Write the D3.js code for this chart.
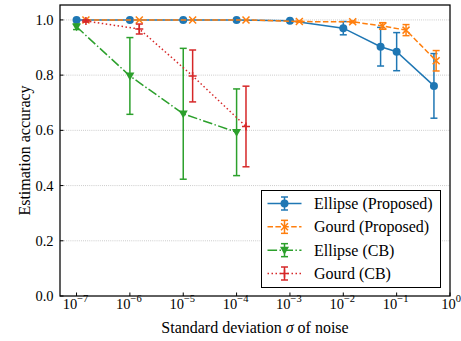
<!DOCTYPE html>
<html>
<head>
<meta charset="utf-8">
<script src="https://cdn.jsdelivr.net/npm/d3@7"></script>
<style>
  html, body { margin: 0; padding: 0; background: #fff; }
</style>
</head>
<body>
<svg id="chart" width="461" height="341"></svg>
<script>
////////// Data //////////
const ellipseProposedX = [1e-7, 1e-6, 1e-5, 1e-4, 1e-3, 1e-2, 0.05, 0.1, 0.5];
const ellipseProposedY = [1.0, 1.0, 1.0, 1.0, 0.997, 0.970, 0.903, 0.885, 0.761];
const ellipseProposedErr = [0, 0, 0, 0, 0.002, 0.024, 0.070, 0.069, 0.117];

const gourdProposedX = [1.5e-7, 1.5e-6, 1.5e-5, 1.5e-4, 1.5e-3, 1.5e-2, 0.055, 0.15, 0.55];
const gourdProposedY = [1.0, 1.0, 1.0, 1.0, 0.994, 0.993, 0.978, 0.963, 0.852];
const gourdProposedErr = [0, 0, 0, 0, 0.002, 0.003, 0.012, 0.020, 0.037];

const ellipseCbX = [1e-7, 1e-6, 1e-5, 1e-4];
const ellipseCbY = [0.975, 0.797, 0.660, 0.593];
const ellipseCbErr = [0.010, 0.139, 0.237, 0.157];

const gourdCbX = [1.5e-7, 1.5e-6, 1.5e-5, 1.5e-4];
const gourdCbY = [0.996, 0.967, 0.797, 0.614];
const gourdCbErr = [0.004, 0.018, 0.094, 0.146];

const xTickExps = [-7, -6, -5, -4, -3, -2, -1, 0];
const yTicks = [0.0, 0.2, 0.4, 0.6, 0.8, 1.0];
const seriesNames = ['Ellipse (Proposed)', 'Gourd (Proposed)', 'Ellipse (CB)', 'Gourd (CB)'];

////////// Layout //////////
const plotLeft = 60, plotRight = 450, plotTop = 5, plotBottom = 296;
const tickLen = 3.5;
const capHalf = 3.5;
const lineW = 1.5;
const serif = '"Liberation Serif", serif';

const svg = d3.select('#chart').attr('font-family', serif);

const x = d3.scaleLog().domain([Math.pow(10, -7.31), 1]).range([plotLeft, plotRight]);
const y = d3.scaleLinear().domain([0, 1.054]).range([plotBottom, plotTop]);

const series = [
  { name: seriesNames[0], xs: ellipseProposedX, ys: ellipseProposedY, err: ellipseProposedErr, color: '#1f77b4', dash: null, marker: 'circle' },
  { name: seriesNames[1], xs: gourdProposedX, ys: gourdProposedY, err: gourdProposedErr, color: '#ff7f0e', dash: '5.5,2.4', marker: 'x' },
  { name: seriesNames[2], xs: ellipseCbX, ys: ellipseCbY, err: ellipseCbErr, color: '#2ca02c', dash: '9.6,2.4,1.5,2.4', marker: 'tri' },
  { name: seriesNames[3], xs: gourdCbX, ys: gourdCbY, err: gourdCbErr, color: '#d62728', dash: '1.5,2.5', marker: 'plus' }
];

// grid
svg.append('g').attr('class', 'grid')
  .selectAll('line')
  .data(yTicks.filter(d => d > 0))
  .enter().append('line')
    .attr('x1', plotLeft).attr('x2', plotRight)
    .attr('y1', d => y(d)).attr('y2', d => y(d))
    .attr('stroke', '#b0b0b0')
    .attr('stroke-width', 0.8)
    .attr('stroke-dasharray', '0.8,1.3');

function drawMarker(g, type, color, cx, cy) {
  if (type === 'circle') {
    g.append('circle').attr('cx', cx).attr('cy', cy).attr('r', 4).attr('fill', color);
  } else if (type === 'x') {
    const s = 3.5;
    g.append('path')
      .attr('d', `M${cx - s},${cy - s}L${cx + s},${cy + s}M${cx - s},${cy + s}L${cx + s},${cy - s}`)
      .attr('stroke', color).attr('stroke-width', 1.5).attr('fill', 'none');
  } else if (type === 'tri') {
    const s = 4.5;
    g.append('path')
      .attr('d', `M${cx - s},${cy - s * 0.75}L${cx + s},${cy - s * 0.75}L${cx},${cy + s}Z`)
      .attr('fill', color);
  } else if (type === 'plus') {
    const s = 4;
    g.append('path')
      .attr('d', `M${cx - s},${cy}L${cx + s},${cy}M${cx},${cy - s}L${cx},${cy + s}`)
      .attr('stroke', color).attr('stroke-width', 1.5).attr('fill', 'none');
  }
}

function drawErrorBar(g, color, cx, yTop, yBot) {
  g.append('line').attr('x1', cx).attr('x2', cx).attr('y1', yTop).attr('y2', yBot)
    .attr('stroke', color).attr('stroke-width', lineW);
  [yTop, yBot].forEach(yy => {
    g.append('line').attr('x1', cx - capHalf).attr('x2', cx + capHalf).attr('y1', yy).attr('y2', yy)
      .attr('stroke', color).attr('stroke-width', lineW);
  });
}

const plotArea = svg.append('g').attr('class', 'plotArea');

series.forEach(s => {
  const g = plotArea.append('g').attr('class', 'series');
  const pts = s.xs.map((xv, i) => ({ x: xv, y: s.ys[i], e: s.err[i] }));
  const line = d3.line().x(d => x(d.x)).y(d => y(d.y));
  g.append('path')
    .datum(pts)
    .attr('d', line)
    .attr('fill', 'none')
    .attr('stroke', s.color)
    .attr('stroke-width', lineW)
    .attr('stroke-dasharray', s.dash);
  pts.forEach(p => {
    if (p.e > 0) drawErrorBar(g, s.color, x(p.x), y(p.y + p.e), y(p.y - p.e));
    drawMarker(g, s.marker, s.color, x(p.x), y(p.y));
  });
});

// frame
svg.append('rect')
  .attr('x', plotLeft).attr('y', plotTop)
  .attr('width', plotRight - plotLeft).attr('height', plotBottom - plotTop)
  .attr('fill', 'none').attr('stroke', '#000').attr('stroke-width', 1.25);

// x ticks
const xAxis = svg.append('g').attr('class', 'xAxis');
xTickExps.forEach(ex => {
  const px = x(Math.pow(10, ex));
  xAxis.append('line').attr('x1', px).attr('x2', px)
    .attr('y1', plotBottom).attr('y2', plotBottom - tickLen)
    .attr('stroke', '#000').attr('stroke-width', 1);
  const t = xAxis.append('text')
    .attr('x', ex === 0 ? px + 1 : px - 1).attr('y', 309)
    .attr('text-anchor', 'middle')
    .attr('font-family', serif)
    .attr('font-size', 14.5);
  t.append('tspan').text('10');
  t.append('tspan').attr('dy', -7).attr('font-size', 10.5).text(ex === 0 ? '0' : '\u2212' + Math.abs(ex));
});

// y ticks
const yAxis = svg.append('g').attr('class', 'yAxis');
yTicks.forEach(v => {
  const py = y(v);
  yAxis.append('line').attr('x1', plotLeft).attr('x2', plotLeft + tickLen)
    .attr('y1', py).attr('y2', py)
    .attr('stroke', '#000').attr('stroke-width', 1);
  yAxis.append('text')
    .attr('x', 53.5).attr('y', py + 5)
    .attr('text-anchor', 'end')
    .attr('font-family', serif)
    .attr('font-size', 14.5)
    .text(v.toFixed(1));
});

// axis labels
const xLabel = svg.append('text')
  .attr('x', (plotLeft + plotRight) / 2).attr('y', 333)
  .attr('text-anchor', 'middle')
  .attr('font-family', serif)
  .attr('font-size', 16);
xLabel.append('tspan').text('Standard deviation ');
xLabel.append('tspan').attr('font-style', 'italic').text('\u03c3');
xLabel.append('tspan').text(' of noise');

svg.append('text')
  .attr('transform', `translate(30, ${(plotTop + plotBottom) / 2}) rotate(-90)`)
  .attr('text-anchor', 'middle')
  .attr('font-family', serif)
  .attr('font-size', 16)
  .text('Estimation accuracy');

// legend
const legend = svg.append('g').attr('class', 'legend');
legend.append('rect')
  .attr('x', 261.5).attr('y', 190.5).attr('width', 179).attr('height', 97)
  .attr('fill', '#fff').attr('stroke', '#000').attr('stroke-width', 1);
const rowY = d3.scalePoint().domain(seriesNames).range([203.5, 273.5]);
series.forEach(s => {
  const ry = rowY(s.name);
  const g = legend.append('g');
  g.append('line').attr('x1', 267.5).attr('x2', 301.5).attr('y1', ry).attr('y2', ry)
    .attr('stroke', s.color).attr('stroke-width', lineW).attr('stroke-dasharray', s.dash);
  drawErrorBar(g, s.color, 284.5, ry - 6.5, ry + 6.5);
  drawMarker(g, s.marker, s.color, 284.5, ry);
  legend.append('text')
    .attr('x', 314).attr('y', ry + 5.5)
    .attr('font-family', serif)
    .attr('font-size', 16)
    .text(s.name);
});
</script>
</body>
</html>
